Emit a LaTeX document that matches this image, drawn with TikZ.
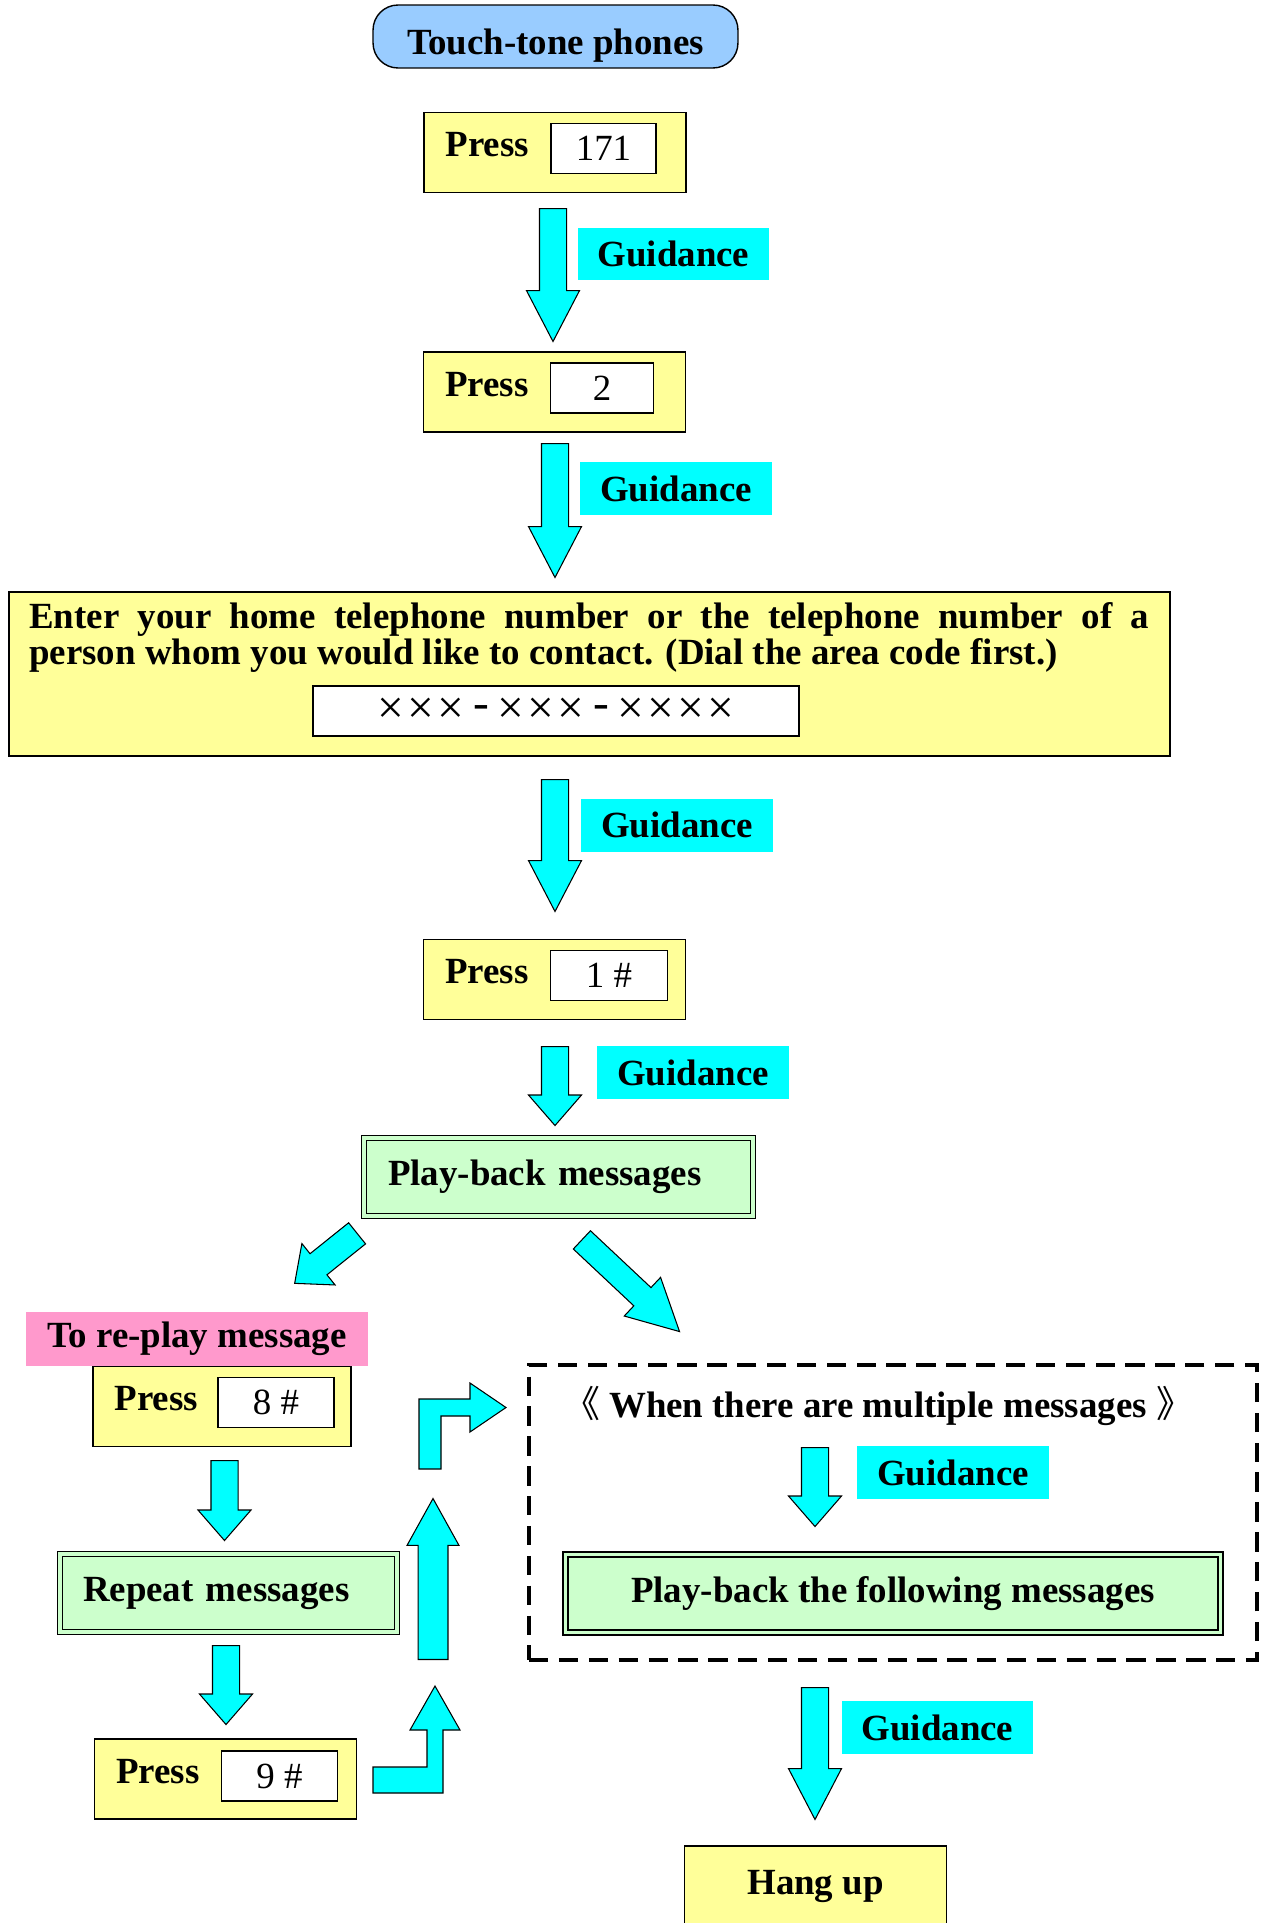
\documentclass[tikz,border=0pt]{standalone}
\usepackage{fontspec}
\setmainfont{Liberation Serif}
\newfontfamily\cjk{Noto Sans CJK SC}
\usetikzlibrary{positioning,shapes.arrows}

\definecolor{pressyellow}{HTML}{FFFF99}
\definecolor{phoneblue}{HTML}{99CCFF}
\definecolor{guidecyan}{HTML}{00FFFF}
\definecolor{replaypink}{HTML}{FF99CC}
\definecolor{msggreen}{HTML}{CCFFCC}

\newcommand{\xdigit}[1]{\makebox[0.6cm]{#1}}

\tikzset{
  every node/.style={font=\fontsize{21}{25}\selectfont\bfseries},
  pressbox/.style={draw, line width=0.8pt, fill=pressyellow, minimum width=5.24cm, minimum height=1.6cm, inner sep=0pt},
  keybox/.style={draw, line width=0.8pt, fill=white, minimum height=1.0cm, inner sep=0pt, font=\fontsize{21}{25}\selectfont\mdseries},
  guide/.style={fill=guidecyan, minimum width=3.84cm, minimum height=1.06cm, inner sep=0pt},
  msgbox/.style={draw, line width=0.8pt, double=msggreen, double distance=0.07cm, fill=msggreen, minimum height=1.56cm, inner ysep=0pt},
  blockarrow/.style={single arrow, draw, line width=0.6pt, fill=guidecyan, inner sep=0.26cm, single arrow head extend=0.26cm, minimum width=1.04cm, anchor=tail},
  longhead/.style={single arrow tip angle=55},
  shorthead/.style={single arrow tip angle=82},
  bentarrow/.style={draw, line width=0.6pt, fill=guidecyan, line join=miter},
}

\begin{document}
\begin{tikzpicture}[x=0.02cm, y=-0.02cm]
\useasboundingbox (0,0) rectangle (1266,1923);

\node[draw, line width=0.8pt, fill=phoneblue, rounded corners=0.5cm, minimum width=7.3cm, minimum height=1.26cm] (phones) at (555.5,36.5) {\raisebox{-10pt}[0pt][0pt]{Touch-tone phones}};

% press 171
\node[pressbox] (press1) at (555,152.5) {};
\node[anchor=base west, inner sep=0pt] (press1-lab) at ([shift={(22,45)}]press1.north west) {Press};
\node[keybox, minimum width=2.1cm, anchor=north west] (key1) at ([shift={(127,11)}]press1.north west) {171};
\node[blockarrow, longhead, rotate=-90, minimum height=2.66cm] (arrow1) at (553,208) {};
\node[guide] (guide1) at (673.5,254) {Guidance};

% press 2
\node[pressbox] (press2) at (554.5,392) {};
\node[anchor=base west, inner sep=0pt] (press2-lab) at ([shift={(22,45)}]press2.north west) {Press};
\node[keybox, minimum width=2.06cm, anchor=north west] (key2) at ([shift={(127,11)}]press2.north west) {2};
\node[blockarrow, longhead, rotate=-90, minimum height=2.68cm] (arrow2) at (555,443) {};
\node[guide] (guide2) at (676,488.5) {Guidance};

% telephone number
\node[draw, line width=0.8pt, fill=pressyellow, minimum width=23.22cm, minimum height=3.28cm] (enter) at (589.5,674) {};
\node[anchor=base west, inner sep=0pt, font=\fontsize{21}{20.5}\selectfont\bfseries] (enter-text) at (29,628)
  {\parbox[t]{22.4cm}{Enter your home telephone number or the telephone number of a\linebreak
   person whom you would like to contact. (Dial the area code first.)}};
\node[keybox, minimum width=9.72cm, font=\fontsize{27}{27}\selectfont\mdseries] (number) at (556,711)
  {\xdigit{×}\xdigit{×}\xdigit{×}\xdigit{\raisebox{3pt}{-}}\xdigit{×}\xdigit{×}\xdigit{×}\xdigit{\raisebox{3pt}{-}}\xdigit{×}\xdigit{×}\xdigit{×}\xdigit{×}};
\node[blockarrow, longhead, rotate=-90, minimum height=2.64cm] (arrow3) at (555,779) {};
\node[guide] (guide3) at (677,825) {Guidance};

% press 1 #
\node[pressbox] (press3) at (554.5,979.5) {};
\node[anchor=base west, inner sep=0pt] (press3-lab) at ([shift={(22,45)}]press3.north west) {Press};
\node[keybox, minimum width=2.34cm, anchor=north west] (key3) at ([shift={(127,11)}]press3.north west) {1 \#};
\node[blockarrow, shorthead, rotate=-90, minimum height=1.58cm] (arrow4) at (555,1046) {};
\node[guide] (guide4) at (693,1072.5) {Guidance};

\node[msgbox, text width=6.82cm, inner xsep=0.48cm, align=left] (playback) at (558.5,1177) {Play-back messages};

% branches
\node[blockarrow, shorthead, rotate=218.7, minimum height=1.6cm] (arrowleft) at (357.5,1233) {};
\node[blockarrow, longhead, rotate=-43.2, inner sep=0.24cm, single arrow head extend=0.28cm, minimum height=2.68cm] (arrowright) at (581.5,1239.5) {};

% re-play
\node[fill=replaypink, minimum width=6.84cm, minimum height=1.08cm, inner sep=0pt] (replay) at (197,1339) {To re-play message};
\node[pressbox, minimum width=5.16cm] (press8) at (222,1406.5) {};
\node[anchor=base west, inner sep=0pt] (press8-lab) at ([shift={(22,45)}]press8.north west) {Press};
\node[keybox, minimum width=2.32cm, anchor=north west] (key8) at ([shift={(125,11)}]press8.north west) {8 \#};
\node[blockarrow, shorthead, rotate=-90, minimum height=1.6cm] (arrow8) at (224.5,1460) {};
\node[msgbox, text width=5.82cm, inner xsep=0.46cm, align=left] (repeat) at (228.5,1593) {Repeat messages};
\node[blockarrow, shorthead, rotate=-90, minimum height=1.58cm] (arrowrep) at (226,1645) {};
\node[pressbox] (press9) at (225.5,1779) {};
\node[anchor=base west, inner sep=0pt] (press9-lab) at ([shift={(22,45)}]press9.north west) {Press};
\node[keybox, minimum width=2.32cm, anchor=north west] (key9) at ([shift={(127,12)}]press9.north west) {9 \#};

% back to the following messages
\draw[bentarrow] (373,1767) -- (427,1767) -- (427,1730) -- (410,1730) -- (435,1686) -- (460,1730) -- (443,1730) -- (443,1793) -- (373,1793) -- cycle;
\node[blockarrow, rotate=90, inner sep=0.2cm, single arrow head extend=0.155cm, single arrow tip angle=58, minimum height=3.22cm] (arrowup) at (433,1660) {};
\draw[bentarrow] (419,1469) -- (419,1399) -- (470,1399) -- (470,1383) -- (506,1407.5) -- (470,1432) -- (470,1416) -- (441,1416) -- (441,1469) -- cycle;

% multiple messages
\node[draw, line width=2.2pt, dash pattern=on 11pt off 6pt, minimum width=14.56cm, minimum height=5.9cm] (multi) at (893,1512.5) {};
\node (multi-head) at (878,1406) {{\cjk\mdseries《}\ When there are multiple messages\ {\cjk\mdseries》}};
\node[blockarrow, shorthead, rotate=-90, minimum height=1.58cm] (arrow5) at (815,1447) {};
\node[guide] (guide5) at (953,1472.5) {Guidance};
\node[msgbox, minimum width=13.1cm] (following) at (893,1593.5) {Play-back the following messages};

\node[blockarrow, longhead, rotate=-90, minimum height=2.64cm] (arrow6) at (815,1687) {};
\node[guide] (guide6) at (937.5,1727.5) {Guidance};
\node[pressbox] (hangup) at (815.5,1886) {Hang up};
\end{tikzpicture}
\end{document}
